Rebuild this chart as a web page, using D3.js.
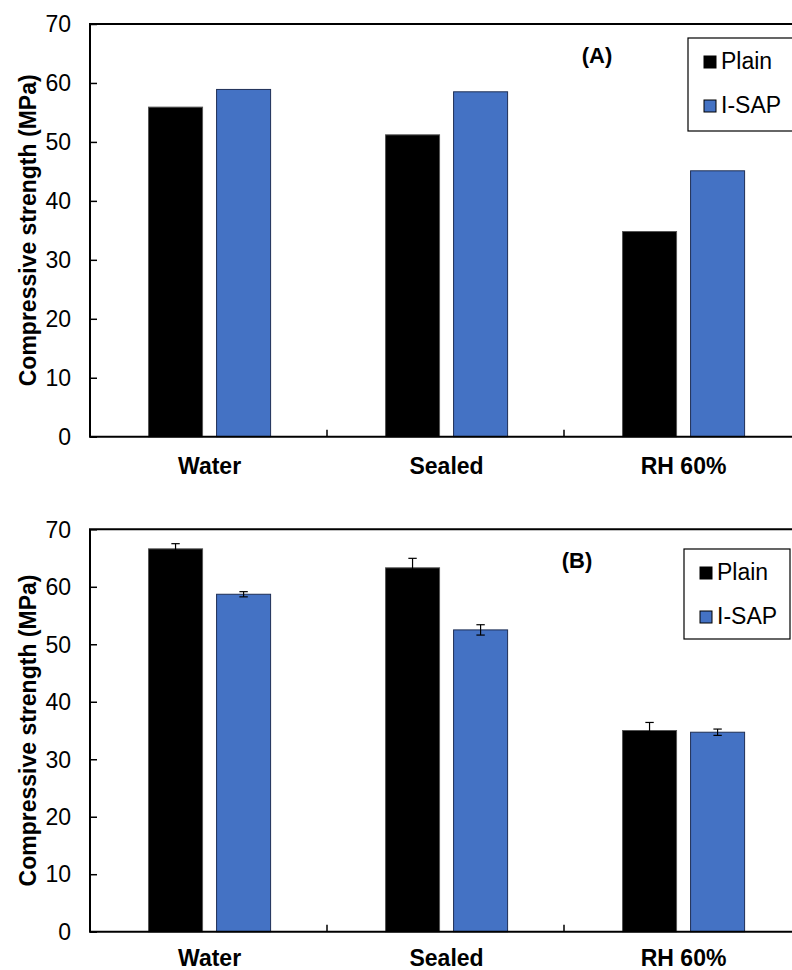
<!DOCTYPE html>
<html>
<head>
<meta charset="utf-8">
<script src="https://cdn.jsdelivr.net/npm/d3@7"></script>
<style>
  html, body { margin: 0; padding: 0; background: #fff; }
  svg { display: block; }
  text { font-family: "Liberation Sans", Arial, sans-serif; fill: #000; }
</style>
</head>
<body>
<svg id="chart" width="792" height="970"></svg>
<script>
// ---- Data ----
const categories = ["Water", "Sealed", "RH 60%"];
const seriesNames = ["Plain", "I-SAP"];
const plainA = [55.9, 51.2, 34.8];
const isapA  = [58.9, 58.5, 45.1];
const plainB = [66.6, 63.3, 35.0];
const isapB  = [58.7, 52.5, 34.7];
const plainBErr = [0.9, 1.65, 1.4];
const isapBErr  = [0.45, 0.9, 0.55];
const yTicks = [0, 10, 20, 30, 40, 50, 60, 70];
const panelLabels = ["(A)", "(B)"];
const yTitle = "Compressive strength (MPa)";

const colors = { "Plain": "#000000", "I-SAP": "#4472C4" };
const strokes = { "Plain": "#555555", "I-SAP": "#1f2f55" };

const svg = d3.select("#chart");
const FONT = 23;

const panels = [
  { label: panelLabels[0], plain: plainA, isap: isapA, plainErr: null, isapErr: null,
    top: 24, bottom: 436.7, left: 90, right: 801,
    labelPos: [597, 63], legend: { x: 688, y: 38, w: 110, h: 93 }, catY: 474 },
  { label: panelLabels[1], plain: plainB, isap: isapB, plainErr: plainBErr, isapErr: isapBErr,
    top: 529.3, bottom: 931.7, left: 90, right: 801,
    labelPos: [577, 568], legend: { x: 684, y: 549, w: 106, h: 90 }, catY: 966 }
];

panels.forEach(p => {
  const g = svg.append("g");
  const y = d3.scaleLinear().domain([0, 70]).range([p.bottom, p.top]);
  const x0 = d3.scaleBand().domain(categories).range([p.left, p.right]).padding(0);
  const bw = x0.bandwidth();
  const x1 = d3.scaleBand().domain(seriesNames)
      .range([0.247 * bw, 0.762 * bw]).paddingInner(0.206).paddingOuter(0);

  const rows = categories.map((c, i) => ({
    cat: c,
    vals: [
      { s: "Plain", v: p.plain[i], e: p.plainErr ? p.plainErr[i] : null },
      { s: "I-SAP", v: p.isap[i], e: p.isapErr ? p.isapErr[i] : null }
    ]
  }));

  // bars
  const grp = g.selectAll("g.cat").data(rows).enter().append("g")
    .attr("transform", d => `translate(${x0(d.cat)},0)`);
  grp.selectAll("rect").data(d => d.vals).enter().append("rect")
    .attr("x", d => x1(d.s))
    .attr("y", d => y(d.v))
    .attr("width", x1.bandwidth())
    .attr("height", d => y(0) - y(d.v))
    .attr("fill", d => colors[d.s])
    .attr("stroke", d => strokes[d.s])
    .attr("stroke-width", 1);

  // error bars
  const eb = grp.selectAll("g.err").data(d => d.vals.filter(v => v.e != null)).enter().append("g")
    .attr("stroke", "#000").attr("stroke-width", 1.2);
  eb.append("line")
    .attr("x1", d => x1(d.s) + x1.bandwidth() / 2).attr("x2", d => x1(d.s) + x1.bandwidth() / 2)
    .attr("y1", d => y(d.v + d.e)).attr("y2", d => y(d.v - d.e));
  [1, -1].forEach(sg => {
    eb.append("line")
      .attr("x1", d => x1(d.s) + x1.bandwidth() / 2 - 4.2).attr("x2", d => x1(d.s) + x1.bandwidth() / 2 + 4.2)
      .attr("y1", d => y(d.v + sg * d.e)).attr("y2", d => y(d.v + sg * d.e));
  });

  // y axis (inward ticks)
  const yAxis = d3.axisRight(y).tickValues(yTicks).tickSize(7).tickFormat("");
  const ya = g.append("g").attr("transform", `translate(${p.left},0)`).call(yAxis);
  ya.select(".domain").remove();
  ya.selectAll("line").attr("stroke", "#000").attr("stroke-width", 1.5);
  g.selectAll("text.ytick").data(yTicks).enter().append("text")
    .attr("class", "ytick")
    .attr("x", 71).attr("y", d => y(d))
    .attr("dy", "0.36em")
    .attr("text-anchor", "end")
    .style("font-size", FONT + "px")
    .text(d => d);

  // x category ticks (inward, at band boundaries)
  g.selectAll("line.xtick").data(categories.slice(1)).enter().append("line")
    .attr("x1", d => x0(d)).attr("x2", d => x0(d))
    .attr("y1", p.bottom).attr("y2", p.bottom - 7)
    .attr("stroke", "#000").attr("stroke-width", 1.5);

  // category labels
  g.selectAll("text.cat").data(categories).enter().append("text")
    .attr("x", d => x0(d) + x1.range()[0] + (x1.range()[1] - x1.range()[0]) / 2)
    .attr("y", p.catY)
    .attr("text-anchor", "middle")
    .style("font-size", FONT + "px").style("font-weight", "bold")
    .text(d => d);

  // frame (left, top, bottom)
  g.append("path")
    .attr("d", `M${p.right},${p.top}H${p.left}V${p.bottom}H${p.right}`)
    .attr("fill", "none").attr("stroke", "#000").attr("stroke-width", 2);

  // y title
  g.append("text")
    .attr("transform", `translate(28,${(p.top + p.bottom) / 2}) rotate(-90)`)
    .attr("text-anchor", "middle").attr("dy", "0.36em")
    .style("font-size", FONT + "px").style("font-weight", "bold")
    .text(yTitle);

  // panel label
  g.append("text")
    .attr("x", p.labelPos[0]).attr("y", p.labelPos[1])
    .attr("text-anchor", "middle")
    .style("font-size", (FONT - 1) + "px").style("font-weight", "bold")
    .text(p.label);

  // legend
  const L = p.legend;
  const lg = g.append("g").attr("transform", `translate(${L.x},${L.y})`);
  lg.append("rect").attr("width", L.w).attr("height", L.h)
    .attr("fill", "#fff").attr("stroke", "#000").attr("stroke-width", 1.2);
  seriesNames.forEach((s, i) => {
    const cy = 24 + i * 44;
    lg.append("rect").attr("x", 16).attr("y", cy - 6).attr("width", 12).attr("height", 12)
      .attr("fill", colors[s]).attr("stroke", "#000").attr("stroke-width", 1);
    lg.append("text").attr("x", 33).attr("y", cy + 7)
      .style("font-size", FONT + "px").text(s);
  });
});
</script>
</body>
</html>
